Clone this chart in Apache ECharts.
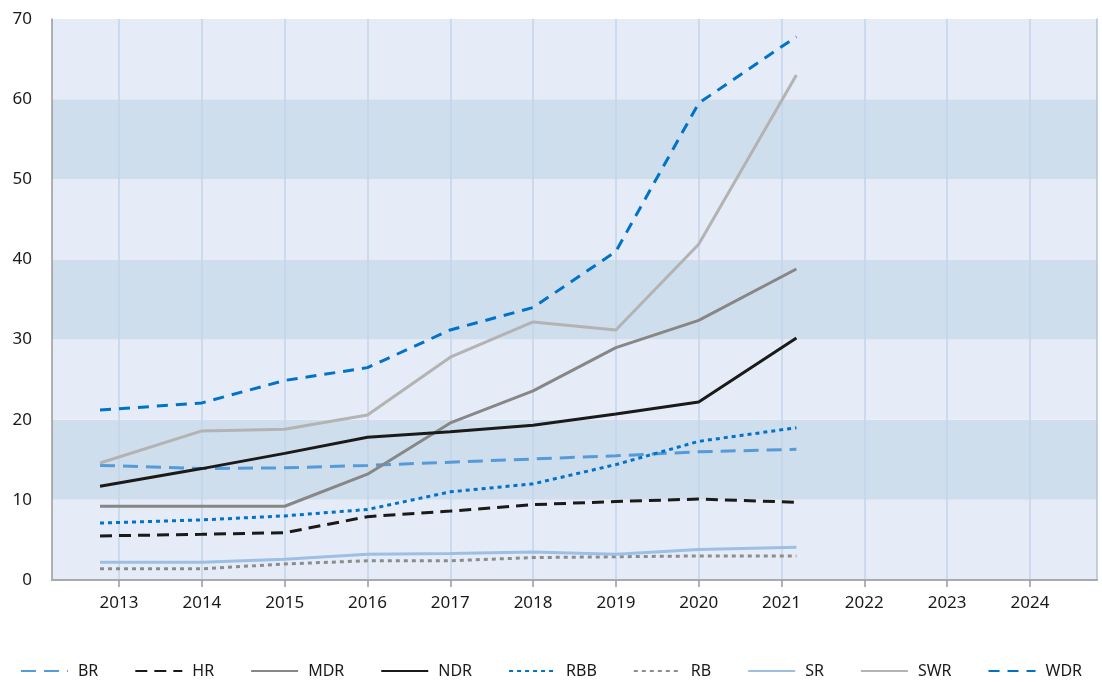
<!DOCTYPE html>
<html>
<head>
<meta charset="utf-8">
<script src="https://cdn.jsdelivr.net/npm/echarts@6/dist/echarts.min.js"></script>
<style>
  html, body { margin: 0; padding: 0; background: #fff; }
  #chart { width: 1102px; height: 682px; }
</style>
</head>
<body>
<div id="chart"></div>
<script>
// x positions of the points (first and last sit a bit off the year grid)
const xPos = [2012.77, 2014, 2015, 2016, 2017, 2018, 2019, 2020, 2021.18]
const years = [2013, 2014, 2015, 2016, 2017, 2018, 2019, 2020, 2021, 2022, 2023, 2024]
const yTicks = [0, 10, 20, 30, 40, 50, 60, 70]

const names = ['BR', 'HR', 'MDR', 'NDR', 'RBB', 'RB', 'SR', 'SWR', 'WDR']
const br  = [14.3, 13.9, 14.0, 14.3, 14.7, 15.1, 15.5, 16.0, 16.3]
const hr  = [5.5, 5.7, 5.9, 7.9, 8.6, 9.4, 9.8, 10.1, 9.7]
const mdr = [9.2, 9.2, 9.2, 13.2, 19.6, 23.6, 29.0, 32.4, 38.8]
const ndr = [11.7, 13.9, 15.8, 17.8, 18.5, 19.3, 20.7, 22.2, 30.2]
const rbb = [7.1, 7.5, 8.0, 8.8, 11.0, 12.0, 14.4, 17.3, 19.0]
const rb  = [1.4, 1.4, 2.0, 2.4, 2.4, 2.8, 2.9, 3.0, 3.0]
const sr  = [2.2, 2.2, 2.6, 3.2, 3.3, 3.5, 3.2, 3.8, 4.1]
const swr = [14.6, 18.6, 18.8, 20.6, 27.8, 32.2, 31.2, 41.9, 63.0]
const wdr = [21.2, 22.1, 24.9, 26.5, 31.2, 34.0, 41.0, 59.5, 67.8]

const styles = {
  BR:  { color: '#559bd9', type: [15, 8] },
  HR:  { color: '#1a1a1a', type: [12, 7] },
  MDR: { color: '#878787', type: 'solid' },
  NDR: { color: '#1a1a1a', type: 'solid' },
  RBB: { color: '#0073c9', type: [4, 4] },
  RB:  { color: '#8c8c8c', type: [4, 4] },
  SR:  { color: '#9ebfe4', type: 'solid' },
  SWR: { color: '#b3b3b3', type: 'solid' },
  WDR: { color: '#0073c9', type: [11, 8] }
}
const values = [br, hr, mdr, ndr, rbb, rb, sr, swr, wdr]

const font = '"Noto Sans", "Open Sans", sans-serif'
const chart = echarts.init(document.getElementById('chart'), null, { renderer: 'canvas' })

chart.setOption({
  animation: false,
  backgroundColor: '#fff',
  grid: { left: 52, right: 5, top: 19, bottom: 102 },
  legend: {
    left: 'center',
    top: 658,
    itemWidth: 47,
    itemHeight: 18,
    itemGap: 36,
    itemStyle: { opacity: 0 },
    textStyle: { fontFamily: font, fontSize: 16, color: '#1a1a1a', padding: [0, 0, 0, 5] },
    data: names
  },
  xAxis: [{
    type: 'value',
    min: 2012.19,
    max: 2024.81,
    axisLine: { lineStyle: { color: '#999', width: 1.5 } },
    axisTick: { show: true, length: 7, customValues: years, lineStyle: { color: '#999', width: 1.5 } },
    axisLabel: { customValues: years, formatter: v => String(v), margin: 15, fontFamily: font, fontSize: 17, color: '#1a1a1a' },
    splitLine: { show: true, lineStyle: { color: '#c2d4ea', width: 1.5 } }
  }, {
    type: 'value',
    position: 'top',
    min: 2012.19,
    max: 2024.81,
    axisLine: { show: true, lineStyle: { color: '#aaa', width: 2 } },
    axisTick: { show: false },
    axisLabel: { show: false },
    splitLine: { show: false }
  }],
  yAxis: [{
    type: 'value',
    min: 0,
    max: 70,
    interval: 10,
    axisLine: { show: true, lineStyle: { color: '#999', width: 1.5 } },
    axisTick: { show: false },
    axisLabel: { margin: 20, fontFamily: font, fontSize: 17, color: '#1a1a1a', customValues: yTicks },
    splitLine: { show: false },
    splitArea: { show: true, areaStyle: { color: ['#e5ecf7', '#cedeed'] } }
  }, {
    type: 'value',
    position: 'right',
    min: 0,
    max: 70,
    axisLine: { show: true, lineStyle: { color: '#b5c2d2', width: 1.5 } },
    axisTick: { show: false },
    axisLabel: { show: false },
    splitLine: { show: false }
  }],
  series: names.map((n, i) => ({
    name: n,
    type: 'line',
    symbol: 'none',
    color: styles[n].color,
    lineStyle: { color: styles[n].color, width: 3, type: styles[n].type },
    data: xPos.map((x, j) => [x, values[i][j]])
  }))
})
</script>
</body>
</html>
